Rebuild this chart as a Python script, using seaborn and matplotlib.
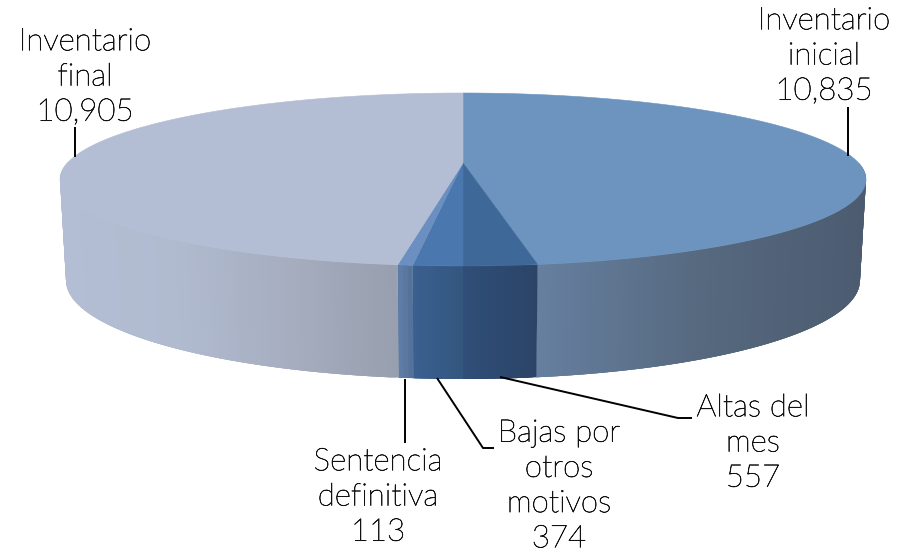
import numpy as np
import matplotlib
matplotlib.use("Agg")
import matplotlib.pyplot as plt
import matplotlib.patheffects as pe
import seaborn as sns

# ---- data -------------------------------------------------------------
categories = ["Inventario\ninicial", "Altas del\nmes", "Bajas por\notros\nmotivos",
              "Sentencia\ndefinitiva", "Inventario\nfinal"]
values = [10835, 557, 374, 113, 10905]

# ---- styles -----------------------------------------------------------
top_colors = ["#6C94BF", "#3E6898", "#4A78AE", "#6A8FC0", "#B3BDD3"]
side_stops = [["#667F9F", "#56697F", "#4C5B70"],
              ["#2F4E78", "#2C4467"],
              ["#3A6090", "#34567F"],
              ["#5E7DA6", "#55729A"],
              ["#B3BDD3", "#B1BBD0", "#A6AEC0", "#989FAE"]]
label_xy = [(824, 56), (753, 443), (559, 486), (378, 497), (85, 77)]
leaders = [[(848, 107), (848, 156)],
           [(500, 377), (678, 418), (692, 418)],
           [(437, 378), (483, 448), (494, 448)],
           [(405, 379), (405, 443)],
           [(75, 127), (75, 157)]]

sns.set_style("white")
plt.rcParams["font.family"] = ["Lato", "DejaVu Sans"]

fig = plt.figure(figsize=(8.99, 5.52), dpi=100)
ax = fig.add_axes([0, 0, 1, 1])
ax.set_xlim(0, 899)
ax.set_ylim(552, 0)
ax.axis("off")

# perspective projection of the pie plane
cx, cy, R, H, k = 463.0, 163.0, 395.6, 83.35, 0.1907
front_y, depth, grow, shrink = 266.0, 113.0, 1.138, 0.985


def top_xy(t):
    s = 1 / (1 + k * np.sin(t))
    return cx + R * np.cos(t) * s, cy - H * np.sin(t) * s


def bottom_xy(t):
    x, y = top_xy(t)
    return cx + (x - cx) * shrink, front_y + depth + grow * (y - front_y)


fractions = np.array(values) / sum(values)
edges = np.pi / 2 - 2 * np.pi * np.concatenate([[0], np.cumsum(fractions)])

# side walls, drawn as overlapping strips so they carry a horizontal gradient
for i in range(len(values)):
    a, b = edges[i], edges[i + 1]
    ts = np.linspace(a, b, max(3, int(abs(b - a) * 140)))
    xt, yt = top_xy(ts)
    cmap = sns.blend_palette(side_stops[i], as_cmap=True)
    idx = np.where(np.sin((ts[:-1] + ts[1:]) / 2) < 0.0)[0]
    if len(idx) == 0:
        continue
    xmid = (xt[:-1] + xt[1:]) / 2
    lo, hi = xmid[idx].min(), xmid[idx].max()
    for j in idx:
        e = min(j + 3, len(ts) - 1)
        c = cmap((xmid[j] - lo) / max(hi - lo, 1e-6))
        strip_t = ts[j:e + 1]
        sx, sy = top_xy(strip_t)
        bx, by = bottom_xy(strip_t)
        ax.fill(np.r_[sx, bx[::-1]], np.r_[sy, by[::-1]],
                facecolor=c, edgecolor="none", zorder=2)

# top surface
for i in range(len(values)):
    ts = np.linspace(edges[i], edges[i + 1], max(3, int(abs(edges[i + 1] - edges[i]) * 120)))
    x, y = top_xy(ts)
    ax.fill(np.r_[cx, x], np.r_[cy, y], facecolor=top_colors[i],
            edgecolor=top_colors[i], lw=0.4, zorder=3)

# leader lines and labels
for pts in leaders:
    px, py = zip(*pts)
    ax.plot(px, py, color="black", lw=1.4, zorder=4, solid_capstyle="butt")

for name, val, (lx, ly) in zip(categories, values, label_xy):
    ax.text(lx, ly, f"{name}\n{val:,}", ha="center", va="center",
            fontsize=22.5, fontweight="light", color="#111111",
            linespacing=1.27, zorder=5,
            path_effects=[pe.withStroke(linewidth=0.45, foreground="#111111")])

fig.savefig("out.png", dpi=100)
